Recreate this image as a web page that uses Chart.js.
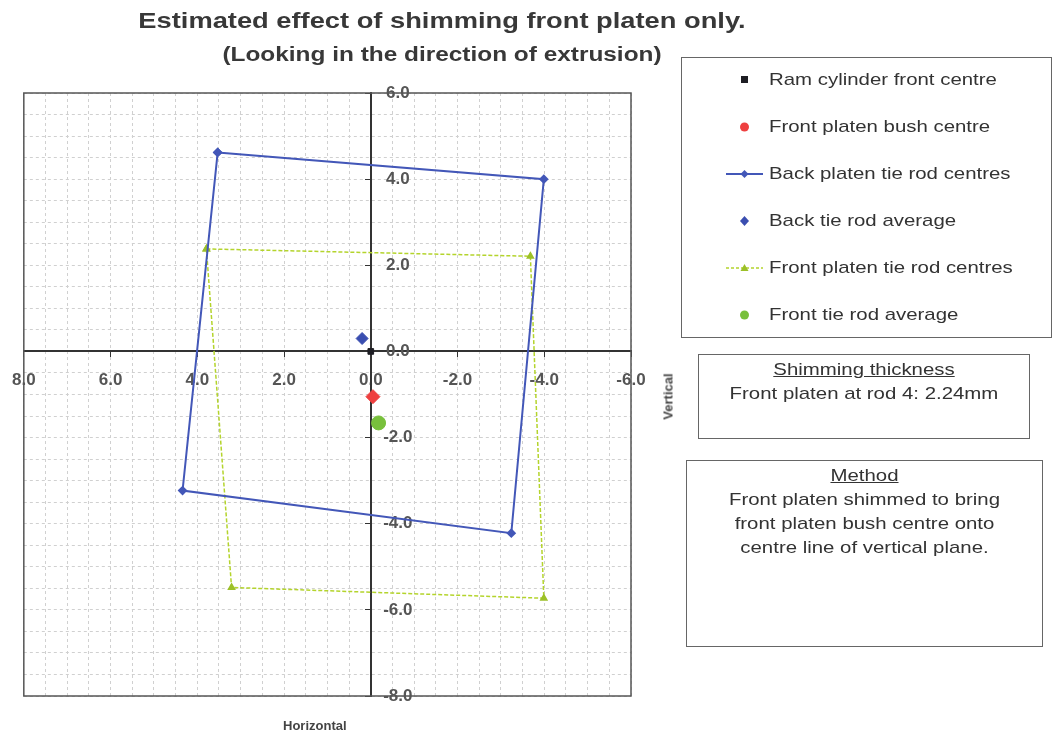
<!DOCTYPE html>
<html>
<head>
<meta charset="utf-8">
<script src="https://cdn.jsdelivr.net/npm/chart.js@4/dist/chart.umd.min.js"></script>
<style>
  body { margin: 0; background: #fff; font-family: "Liberation Sans", Arial, sans-serif; color: #333; }
  #wrap { position: relative; width: 1054px; height: 736px; overflow: hidden; }
  #chart { position: absolute; left: -2px; top: 0; }
  .title { position: absolute; left: 0; width: 884px; text-align: center; font-weight: bold; color: #383838; transform-origin: 442px 0; }
  .axis-title { position: absolute; font-weight: bold; font-size: 13px; color: #444; }
  .box { position: absolute; border: 1.5px solid #666; box-sizing: border-box; font-size: 17px; color: #333; }
  .box div { text-align: center; transform: scaleX(1.2); line-height: 24px; }
  #legend { position: absolute; left: 681px; top: 57px; width: 371px; height: 281px; border: 1.5px solid #666; box-sizing: border-box; }
  #legend .item { position: absolute; left: 44px; height: 20px; font-size: 17px; color: #333; white-space: nowrap; }
  #legend svg { position: absolute; left: 0; top: 1px; }
  #legend span { position: absolute; left: 43px; top: 0; transform: scaleX(1.2); transform-origin: 0 0; }
</style>
</head>
<body>
<div id="wrap">
  <canvas id="chart" width="1054" height="736"></canvas>
  <div class="title" style="top:8px;font-size:22px;transform:scaleX(1.24);">Estimated effect of shimming front platen only.</div>
  <div class="title" style="top:43px;font-size:20px;transform:scaleX(1.22);">(Looking in the direction of extrusion)</div>
  <div class="axis-title" style="left:283px;top:718px;">Horizontal</div>
  <div class="axis-title" style="left:640px;top:389px;width:56px;text-align:center;transform:rotate(-90deg);">Vertical</div>
  <div id="legend"></div>
  <div class="box" style="left:698px;top:354px;width:332px;height:85px;padding-top:3px;">
    <div><u>Shimming thickness</u><br>Front platen at rod 4: 2.24mm</div>
  </div>
  <div class="box" style="left:686px;top:460px;width:357px;height:187px;padding-top:3px;">
    <div><u>Method</u><br>Front platen shimmed to bring<br>front platen bush centre onto<br>centre line of vertical plane.</div>
  </div>
</div>
<script>
const seriesNames = [
  "Ram cylinder front centre",
  "Front platen bush centre",
  "Back platen tie rod centres",
  "Back tie rod average",
  "Front platen tie rod centres",
  "Front tie rod average",
];

// points (closed polygons repeat the first corner)
const ramX = [0];
const ramY = [0];
const bushX = [-0.05];
const bushY = [-1.05];
const backX = [3.53, -3.99, -3.24, 4.34, 3.53];
const backY = [4.62, 4.0, -4.22, -3.23, 4.62];
const backAvgX = [0.2];
const backAvgY = [0.3];
const frontX = [3.79, -3.68, -3.99, 3.21, 3.79];
const frontY = [2.38, 2.21, -5.73, -5.48, 2.38];
const frontAvgX = [-0.18];
const frontAvgY = [-1.66];

const xTickLabels = [8, 6, 4, 2, 0, -2, -4, -6];
const yTickLabels = [6, 4, 2, 0, -2, -4, -6, -8];

const toPoints = (xs, ys) => xs.map((x, i) => ({ x: x, y: ys[i] }));
const isMajor = (list, v) => list.some((t) => Math.abs(t - v) < 1e-6);

const colors = {
  ram: "#1e1e24",
  bush: "#ee4040",
  back: "#4357b8",
  backAvg: "#3a4eb0",
  front: "#b4d42c",
  frontMark: "#9cc028",
  frontAvg: "#78c03c",
};

const tickFont = { family: "'Liberation Sans', Arial, sans-serif", size: 17, weight: "bold" };

// y labels sit to the right of the vertical axis, under the lines
const yAxisLabels = {
  id: "yAxisLabels",
  beforeDatasetsDraw(chart) {
    const { ctx, scales } = chart;
    const x0 = scales.x.getPixelForValue(0);
    ctx.save();
    ctx.font = "bold 17px 'Liberation Sans', Arial, sans-serif";
    ctx.fillStyle = "#555";
    ctx.textAlign = "center";
    ctx.textBaseline = "middle";
    yTickLabels.forEach((v) => {
      ctx.fillText(v.toFixed(1), x0 + 27, scales.y.getPixelForValue(v));
    });
    ctx.restore();
  },
};

// box round the plot area
const frameBox = {
  id: "frameBox",
  afterDraw(chart) {
    const { ctx, chartArea: a } = chart;
    ctx.save();
    ctx.strokeStyle = "#555";
    ctx.lineWidth = 1.5;
    ctx.strokeRect(a.left, a.top, a.right - a.left, a.bottom - a.top);
    ctx.restore();
  },
};

new Chart(document.getElementById("chart"), {
  type: "scatter",
  data: {
    datasets: [
      {
        label: seriesNames[0],
        data: toPoints(ramX, ramY),
        pointStyle: "rect",
        pointRadius: 4,
        backgroundColor: colors.ram,
        borderColor: colors.ram,
      },
      {
        label: seriesNames[1],
        data: toPoints(bushX, bushY),
        pointStyle: "rectRot",
        pointRadius: 7,
        backgroundColor: colors.bush,
        borderColor: colors.bush,
      },
      {
        label: seriesNames[2],
        data: toPoints(backX, backY),
        showLine: true,
        borderColor: colors.back,
        borderWidth: 2,
        pointStyle: "rectRot",
        pointRadius: 3.5,
        backgroundColor: colors.back,
      },
      {
        label: seriesNames[3],
        data: toPoints(backAvgX, backAvgY),
        pointStyle: "rectRot",
        pointRadius: 6,
        backgroundColor: colors.backAvg,
        borderColor: colors.backAvg,
      },
      {
        label: seriesNames[4],
        data: toPoints(frontX, frontY),
        showLine: true,
        borderColor: colors.front,
        borderWidth: 1.5,
        borderDash: [4, 2],
        pointStyle: "triangle",
        pointRadius: 3.5,
        backgroundColor: colors.frontMark,
        pointBorderColor: colors.frontMark,
      },
      {
        label: seriesNames[5],
        data: toPoints(frontAvgX, frontAvgY),
        pointStyle: "circle",
        pointRadius: 7,
        backgroundColor: colors.frontAvg,
        borderColor: colors.frontAvg,
      },
    ],
  },
  options: {
    responsive: false,
    animation: false,
    layout: { padding: { left: 22, top: 93, right: 421, bottom: 40 } },
    plugins: {
      legend: { display: false },
      tooltip: { enabled: false },
    },
    scales: {
      x: {
        type: "linear",
        reverse: true,
        min: -6,
        max: 8,
        position: { y: 0 },
        ticks: {
          stepSize: 0.5,
          autoSkip: false,
          maxRotation: 0,
          padding: 14,
          color: "#555",
          font: tickFont,
          callback: (v) => (isMajor(xTickLabels, v) ? v.toFixed(1) : ""),
        },
        grid: {
          color: "#d0d0d0",
          lineWidth: 1,
          tickLength: 5,
          tickColor: (c) => (c.tick && isMajor(xTickLabels, c.tick.value) ? "#333" : "rgba(0,0,0,0)"),
        },
        border: { display: true, color: "#333", width: 2, dash: [3, 3] },
      },
      y: {
        type: "linear",
        min: -8,
        max: 6,
        position: { x: 0 },
        ticks: {
          stepSize: 0.5,
          autoSkip: false,
          display: false,
        },
        grid: {
          color: "#d0d0d0",
          lineWidth: 1,
          tickLength: 5,
          tickColor: (c) => (c.tick && isMajor(yTickLabels, c.tick.value) ? "#333" : "rgba(0,0,0,0)"),
        },
        border: { display: true, color: "#333", width: 2, dash: [3, 3] },
      },
    },
  },
  plugins: [yAxisLabels, frameBox],
});

// legend box, built from the same series list
const legendIcons = [
  '<rect x="15" y="5" width="7" height="7" fill="' + colors.ram + '"/>',
  '<circle cx="18.5" cy="9" r="4.5" fill="' + colors.bush + '"/>',
  '<line x1="0" y1="9" x2="37" y2="9" stroke="' + colors.back + '" stroke-width="2"/><path d="M18.5 5 L22.5 9 L18.5 13 L14.5 9 Z" fill="' + colors.back + '"/>',
  '<path d="M18.5 4 L23 9 L18.5 14 L14 9 Z" fill="' + colors.backAvg + '"/>',
  '<line x1="0" y1="9" x2="37" y2="9" stroke="' + colors.front + '" stroke-width="1.5" stroke-dasharray="3 2"/><path d="M18.5 5 L22.5 12 L14.5 12 Z" fill="' + colors.frontMark + '"/>',
  '<circle cx="18.5" cy="9" r="4.5" fill="' + colors.frontAvg + '"/>',
];
const legend = document.getElementById("legend");
seriesNames.forEach((name, i) => {
  const item = document.createElement("div");
  item.className = "item";
  item.style.top = 12 + i * 47 + "px";
  item.innerHTML = '<svg width="37" height="18">' + legendIcons[i] + "</svg><span>" + name + "</span>";
  legend.appendChild(item);
});
</script>
</body>
</html>
